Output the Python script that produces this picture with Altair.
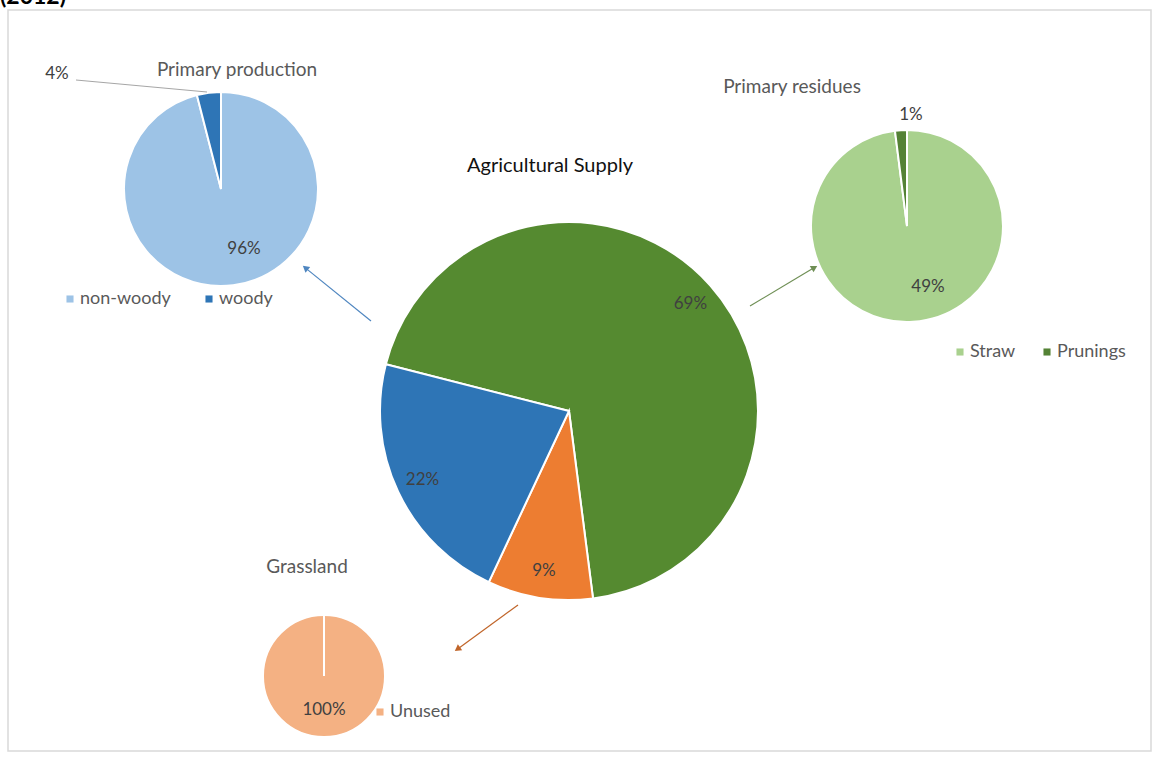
import math
import altair as alt
import pandas as pd

# ---------------- data ----------------
main_cats = ["Primary residues", "Grassland", "Primary production"]
main_vals = [69, 9, 22]
main_colors = ["#558a30", "#ED7D31", "#2E75B6"]

pp_cats = ["non-woody", "woody"]
pp_vals = [96, 4]
pp_colors = ["#9DC3E6", "#2E75B6"]

pr_cats = ["Straw", "Prunings"]
pr_vals = [49, 1]
pr_colors = ["#A9D18E", "#548235"]

gr_cats = ["Unused"]
gr_vals = [100]
gr_colors = ["#F4B183"]

titles = ["Agricultural Supply", "Primary production", "Primary residues", "Grassland"]
year_label = "(2012)"

FONT = "Lato"
LABEL_COLOR = "#404040"
TITLE_COLOR = "#595959"


def frame(cats, vals):
    return pd.DataFrame({"cat": cats, "value": vals, "idx": list(range(len(cats)))})


dummy = pd.DataFrame({"d": [0]})


def pie(cats, vals, colors, cx, cy, r, label_r, start=0.0, legend=None,
        label_filter=None, ldx=0, ldy=0):
    df = frame(cats, vals)
    base = alt.Chart(df).transform_calculate(
        label="datum.value + '%'"
    ).encode(
        theta=alt.Theta("value:Q", stack=True,
                        scale=alt.Scale(range=[start, start + 2 * math.pi])),
        order=alt.Order("idx:Q"),
    )
    color_kwargs = dict(scale=alt.Scale(domain=cats, range=colors))
    color_kwargs["legend"] = legend
    arc = base.mark_arc(radius=r, stroke="white", strokeWidth=2).encode(
        x=alt.value(cx), y=alt.value(cy),
        color=alt.Color("cat:N", **color_kwargs),
    )
    txt = base.mark_text(radius=label_r, font=FONT, fontSize=17, color=LABEL_COLOR,
                         dx=ldx, dy=ldy).encode(
        x=alt.value(cx), y=alt.value(cy), text="label:N",
    )
    if label_filter is not None:
        txt = txt.transform_filter(label_filter)
    return alt.layer(arc, txt)


def leg(x, y, colpad=30):
    return alt.Legend(orient="none", legendX=x, legendY=y, direction="horizontal",
                      title=None, symbolType="square", symbolSize=50,
                      symbolStrokeWidth=0, labelFont=FONT, labelFontSize=18,
                      labelColor=TITLE_COLOR, labelOffset=1, columnPadding=colpad,
                      padding=0)


def rule(x1, y1, x2, y2, color, width=1.0):
    return alt.Chart(dummy).mark_rule(color=color, strokeWidth=width).encode(
        x=alt.value(x1), y=alt.value(y1), x2=alt.value(x2), y2=alt.value(y2))


def arrow(x1, y1, x2, y2, color):
    ang = math.degrees(math.atan2(x2 - x1, -(y2 - y1))) % 360
    L = math.hypot(x2 - x1, y2 - y1)
    ux, uy = (x2 - x1) / L, (y2 - y1) / L
    hx, hy = x2 - 3 * ux, y2 - 3 * uy
    line = rule(x1, y1, x2 - 5 * ux, y2 - 5 * uy, color, 1.2)
    head = alt.Chart(dummy).mark_point(shape="triangle-up", filled=True, size=55,
                                       angle=ang, color=color, opacity=1).encode(
        x=alt.value(hx), y=alt.value(hy))
    return alt.layer(line, head)


def text(s, x, y, size, color, weight="normal", align="center", baseline="middle"):
    return alt.Chart(dummy).mark_text(text=s, font=FONT, fontSize=size, color=color,
                                      fontWeight=weight, align=align,
                                      baseline=baseline).encode(
        x=alt.value(x), y=alt.value(y))


border = alt.Chart(dummy).mark_rect(fill="white", stroke="#d9d9d9", strokeWidth=1.5).encode(
    x=alt.value(8), x2=alt.value(1151), y=alt.value(10), y2=alt.value(751))

main_start = math.radians(284.3)
main_pie = pie(main_cats, main_vals, main_colors, 569, 411, 189, 162, start=main_start)
pp_pie = pie(pp_cats, pp_vals, pp_colors, 221, 189, 97, 64, legend=leg(61, 290, 29),
             label_filter="datum.cat == 'non-woody'", ldx=15, ldy=-3)
pr_pie = pie(pr_cats, pr_vals, pr_colors, 907, 226, 96, 63, legend=leg(951, 343, 22),
             label_filter="datum.cat == 'Straw'", ldx=17, ldy=-2)
pr_small = alt.Chart(frame(pr_cats, pr_vals)).transform_calculate(
    label="datum.value + '%'"
).encode(
    theta=alt.Theta("value:Q", stack=True), order=alt.Order("idx:Q"),
).mark_text(radius=111, font=FONT, fontSize=17, color=LABEL_COLOR, dx=-3).encode(
    x=alt.value(907), y=alt.value(226), text="label:N"
).transform_filter("datum.cat == 'Prunings'")
pr_layer = alt.layer(pr_pie, pr_small)

gr_pie = pie(gr_cats, gr_vals, gr_colors, 324, 676, 61, 34, legend=leg(371, 703))

pp_small = alt.Chart(frame(pp_cats, pp_vals)).transform_filter(
    "datum.cat == 'woody'").transform_calculate(label="datum.value + '%'").mark_text(
    font=FONT, fontSize=17, color=LABEL_COLOR).encode(
    x=alt.value(57), y=alt.value(74), text="label:N")

layers = [
    border,
    text(year_label, 0, 4, 23, "#000000", weight="bold", align="left", baseline="alphabetic"),
    main_pie, pp_pie, pr_layer, gr_pie,
    rule(76, 80, 207, 92, "#a6a6a6", 1),
    pp_small,
    rule(324, 616, 324, 676, "white", 2),
    text(titles[0], 550, 166, 20, "#111111"),
    text(titles[1], 237, 70, 19, TITLE_COLOR),
    text(titles[2], 792, 87, 19, TITLE_COLOR),
    text(titles[3], 307, 567, 19, TITLE_COLOR),
    arrow(371, 321, 303, 266, "#4f86c0"),
    arrow(750, 306, 817, 266, "#6f8f55"),
    arrow(518, 605, 455, 651, "#c0652a"),
]

chart = alt.layer(*layers).resolve_scale(
    theta="independent", color="independent"
).properties(
    width=1152, height=758, padding=0, autosize=alt.AutoSizeParams(type="none"),
    background="white",
).configure_view(strokeWidth=0)

chart.save("out.html", embed_options={"renderer": "svg", "actions": False})
